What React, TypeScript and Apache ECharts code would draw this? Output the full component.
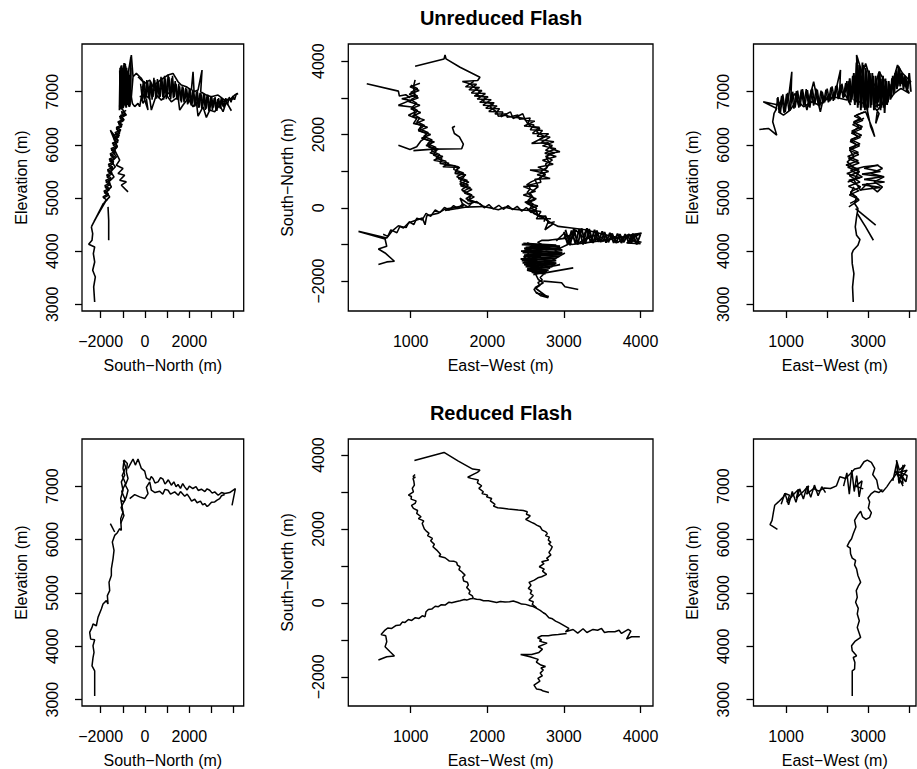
import React, { useEffect, useRef } from "react";
import * as echarts from "echarts";

type Pt = [number, number];

// ---------- Axis ranges (metres) ----------
const snRangeUnr: Pt = [-2843, 4451];
const snRangeRed: Pt = [-2843, 4451];
const snPlanRangeUnr: Pt = [-2815, 4470];
const snPlanRangeRed: Pt = [-2790, 4435];
const ewPlanRange: Pt = [185, 4163];
const ewSideRange: Pt = [205, 4165];
const elevRangeUnr: Pt = [2874, 7898];
const elevRangeRed: Pt = [2881, 7884];

// ---------- Ticks and tick labels ----------
const snTicks = [-2000, -1000, 0, 1000, 2000, 3000, 4000];
const snTickLabels = [-2000, 0, 2000];
const snPlanTickLabels = [-2000, 0, 2000, 4000];
const ewTicks = [1000, 2000, 3000, 4000];
const ewPlanTickLabels = [1000, 2000, 3000, 4000];
const ewSideTickLabels = [1000, 3000];
const elevTicks = [3000, 4000, 5000, 6000, 7000];
const elevTickLabels = [3000, 4000, 5000, 6000, 7000];

// ---------- Reduced flash: plan view [East-West, South-North] ----------
const redPlanNE: Pt[] = [[1048,3855],[1435,4072],[1622,3837],[1809,3621],[1904,3594],[1870,3530],[1817,3476],[1744,3400],[1790,3370],[1883,3323],[1870,3250],[1926,3170],[1890,3100],[1948,3007],[1930,2960],[2004,2917],[1990,2870],[2057,2827],[2040,2760],[2100,2665],[2080,2620],[2135,2575],[2200,2560],[2274,2538],[2340,2530],[2404,2511],[2470,2500],[2522,2466],[2510,2400],[2560,2360],[2535,2304],[2500,2260],[2578,2178],[2610,2150],[2644,2105],[2690,2060],[2717,1970],[2760,1930],[2783,1880],[2760,1820],[2810,1780],[2796,1700],[2830,1640],[2800,1600],[2848,1519],[2830,1440],[2804,1366],[2830,1300],[2774,1204],[2800,1160],[2709,1113],[2740,1060],[2678,978],[2744,915],[2720,860],[2774,771],[2709,707],[2660,680],[2613,617],[2544,554],[2570,480],[2535,392],[2580,330],[2561,256],[2600,200],[2578,148],[2544,76],[2600,30],[2587,-41],[2644,-131]];
const redPlanNW: Pt[] = [[1057,3476],[1030,3420],[1060,3400],[1030,3368],[1040,3300],[1048,3188],[1020,3100],[1035,3007],[970,2917],[1010,2880],[1004,2809],[1070,2760],[1057,2692],[1010,2640],[1035,2557],[1090,2500],[1078,2421],[1135,2331],[1100,2280],[1170,2220],[1150,2150],[1178,1997],[1200,1950],[1239,1880],[1220,1820],[1283,1744],[1260,1680],[1309,1583],[1290,1520],[1339,1429],[1391,1312],[1370,1260],[1448,1222],[1505,1131],[1560,1130],[1600,1095],[1610,1020],[1644,978],[1630,900],[1665,843],[1709,752],[1680,700],[1691,590],[1740,560],[1752,482],[1730,420],[1774,319],[1760,250],[1804,193],[1817,121]];
const redPlanTrunkW: Pt[] = [[1817,121],[1780,110],[1731,76],[1700,90],[1644,58],[1600,40],[1535,4],[1500,20],[1448,-59],[1400,-50],[1361,-104],[1320,-90],[1274,-167],[1230,-180],[1200,-239],[1187,-374],[1150,-350],[1109,-420],[1060,-400],[1013,-474],[970,-450],[926,-528],[890,-520],[861,-600],[810,-610],[752,-691],[700,-680],[665,-736],[613,-853],[674,-889],[687,-1051],[665,-1187],[730,-1322],[787,-1439],[687,-1457],[578,-1547]];
const redPlanTrunkE: Pt[] = [[1817,121],[1860,100],[1904,94],[1950,60],[2013,58],[2060,40],[2122,13],[2170,40],[2231,22],[2290,30],[2339,49],[2400,10],[2448,-32],[2500,-40],[2557,-77],[2600,-100],[2644,-149],[2690,-200],[2731,-266],[2760,-300],[2804,-402],[2850,-430],[2891,-492],[2940,-540],[2991,-600],[3065,-691],[3020,-780],[3120,-720],[3180,-820],[3250,-700],[3300,-800],[3380,-717],[3440,-740],[3491,-691],[3530,-800],[3578,-781],[3665,-781],[3720,-740],[3752,-826],[3839,-718],[3874,-763],[3818,-979],[3883,-916],[3991,-916]];
const redPlanSE: Pt[] = [[3035,-826],[2926,-853],[2850,-870],[2796,-889],[2709,-889],[2657,-943],[2709,-1000],[2680,-1034],[2780,-1090],[2665,-1187],[2720,-1250],[2674,-1340],[2578,-1394],[2435,-1394],[2557,-1457],[2665,-1529],[2640,-1600],[2700,-1683],[2760,-1720],[2700,-1760],[2731,-1818],[2690,-1900],[2718,-1971],[2660,-2040],[2687,-2116],[2609,-2224],[2644,-2332],[2700,-2350],[2731,-2386],[2804,-2422]];

// ---------- Reduced flash: South-North vs Elevation ----------
const redSnStem: Pt[] = [[-2271,3068],[-2271,3539],[-2391,3633],[-2346,3789],[-2301,3884],[-2346,4009],[-2271,4122],[-2451,4134],[-2497,4260],[-2391,4354],[-2346,4417],[-2196,4385],[-2121,4542],[-1970,4699],[-1895,4793],[-1745,4855],[-1669,4793],[-1699,4949],[-1594,5043],[-1624,5200],[-1519,5326],[-1519,5451],[-1444,5639],[-1399,5796],[-1474,5953],[-1369,6078],[-1248,6128],[-1143,6203],[-1068,6172],[-1098,6392],[-993,6517],[-1098,6768],[-993,6924],[-1068,7081],[-917,7207],[-993,7332],[-947,7489],[-797,7426],[-842,7269],[-767,7144],[-887,7018],[-767,6924],[-842,6799],[-947,6705],[-1098,6736]];
const redSnBlob: Pt[] = [[-1100,6300],[-950,6450],[-1080,6600],[-900,6750],[-1050,6900],[-880,7050],[-1030,7200],[-870,7350],[-980,7480]];
const redSnStub: Pt[] = [[-1564,6298],[-1369,6141]];
const redSnUpper: Pt[] = [[-767,7332],[-647,7426],[-541,7508],[-436,7395],[-316,7508],[-165,7332],[-15,7282],[60,7156],[211,7113],[280,7180],[361,7144],[450,7060],[587,7081],[700,7160],[812,7131],[900,7040],[963,7069],[1050,7120],[1188,7018],[1300,7080],[1400,6990],[1489,7031],[1600,6960],[1700,7050],[1790,6987],[1900,6930],[2000,7000],[2157,6956],[2300,6990],[2400,6920],[2542,6943],[2700,6900],[2800,6950],[2918,6924],[3030,6870],[3143,6893],[3300,6830],[3450,6880],[3594,6862],[3820,6881],[4076,6956],[3925,6642]];
const redSnLower: Pt[] = [[-692,6768],[-466,6843],[-241,6799],[-15,6768],[135,6862],[60,6978],[211,7081],[286,6924],[450,6880],[662,6906],[800,6850],[900,6940],[1038,6924],[1150,6850],[1339,6893],[1500,6830],[1600,6900],[1790,6812],[1900,6850],[2000,6790],[2100,6720],[2241,6755],[2350,6690],[2500,6720],[2600,6650],[2692,6674],[2800,6620],[2873,6642],[3000,6700],[3143,6705],[3250,6740],[3368,6768],[3450,6820],[3594,6843]];

// ---------- Reduced flash: East-West vs Elevation ----------
const redEwStem: Pt[] = [[2611,3068],[2611,3539],[2668,3570],[2676,3695],[2636,3789],[2717,3821],[2611,3915],[2595,4009],[2676,4090],[2816,4166],[2775,4260],[2734,4354],[2783,4479],[2734,4605],[2758,4711],[2693,4824],[2734,4918],[2709,5043],[2766,5138],[2816,5200],[2750,5326],[2717,5451],[2668,5526],[2693,5608],[2611,5652],[2570,5733],[2562,5840],[2488,5877],[2537,5953],[2595,6015],[2636,6109],[2701,6235],[2668,6360],[2750,6467],[2816,6529],[2864,6423],[2946,6379],[3036,6417],[3077,6504],[3004,6592],[3036,6705],[2995,6780],[3077,6862],[3159,6906],[3265,6881],[3347,6937]];
const redEwUpper: Pt[] = [[788,6191],[608,6279],[657,6360],[689,6504],[722,6642],[812,6705],[935,6799],[976,6862],[1082,6830],[1020,6700],[1180,6843],[1303,6943],[1250,6780],[1425,6906],[1548,7006],[1500,6850],[1671,6956],[1793,6906],[1932,6968],[2080,6956],[2227,7006],[2309,7175],[2447,7144],[2570,7238],[2668,7320],[2800,7345],[2898,7457],[2979,7489],[3077,7445],[3159,7332],[3110,7219],[3208,7113],[3249,6956],[3347,6893],[3453,6987],[3535,7081],[3633,7175],[3715,7269],[3690,7489],[3760,7300],[3900,7400],[3800,7250],[3950,7200],[3919,7081],[3813,7207],[3850,7050],[3731,7131]];
const redEwArm: Pt[] = [[880,6660],[970,6870],[1060,6650],[1150,6900],[1240,6700],[1330,6950],[1420,6760],[1510,7000],[1600,6790],[1690,7020],[1780,6820],[1870,6990],[1960,6880]];
const redEwLoop: Pt[] = [[2400,7000],[2480,7250],[2540,6850],[2600,7300],[2660,6900],[2720,7200],[2780,6800],[2850,7100],[2700,7000],[2880,6950]];
const redEwStar: Pt[] = [[3600,7100],[3700,7450],[3750,7050],[3850,7400],[3800,7150],[3950,7300],[3700,7250],[3900,7100],[3650,7300],[3850,7000]];

// ---------- Unreduced flash: plan view ----------
const unrPlanNE: Pt[] = [[1057,3864],[1435,4063],[1448,4172],[1461,4063],[1644,3837],[1904,3565],[1874,3475],[1674,3448],[1774,3384],[1839,3276],[1904,3158],[1861,3068],[1970,3023],[1948,2887],[2079,2841],[2035,2751],[2122,2615],[2144,2498],[2231,2525],[2318,2480],[2404,2462],[2491,2434],[2526,2299],[2578,2208],[2687,2163],[2644,2072],[2752,1937],[2578,1756],[2796,1774],[2831,1620],[2948,1529],[2804,1484],[2774,1349],[2818,1213],[2752,1031],[2557,1031],[2752,941],[2687,805],[2578,715],[2513,624],[2665,579],[2557,398],[2622,217],[2513,127],[2644,-10],[2600,-145],[2709,-236],[2796,-371],[2752,-598],[2861,-435]];
const unrPlanNEScrib: Pt[] = [[1823,3453],[1715,3303],[1899,3285],[1791,3135],[1975,3117],[1867,2967],[2051,2949],[1943,2799],[2127,2781],[2019,2631],[2203,2613],[2177,2483],[2303,2617],[2337,2438],[2463,2567],[2497,2383],[2620,2365],[2480,2235],[2680,2200],[2590,2030],[2800,2020],[2680,1860],[2870,1800],[2720,1690],[2895,1610],[2750,1490],[2900,1400],[2720,1300],[2860,1190],[2660,1110],[2800,990],[2650,900],[2820,800],[2620,780],[2660,600],[2470,580],[2630,450],[2470,350],[2640,250],[2490,150],[2660,50],[2520,-50],[2700,-100],[2640,-300],[2830,-300]];
const unrPlanNEScrib2: Pt[] = [[1760,3380],[1860,3370],[1760,3220],[1930,3200],[1830,3050],[2010,3030],[1900,2880],[2090,2870],[1980,2720],[2160,2700],[2100,2560],[2250,2560],[2260,2470],[2400,2530],[2420,2420],[2560,2450],[2530,2300],[2610,2260],[2560,2130],[2720,2110],[2650,1950],[2820,1930],[2700,1780],[2850,1700],[2760,1570],[2880,1500],[2760,1400],[2850,1300],[2760,1200],[2780,1100],[2700,1000],[2760,900],[2680,820],[2700,700],[2540,620],[2560,520],[2520,420],[2580,300],[2530,200],[2600,100],[2560,0],[2640,-80],[2660,-200],[2760,-240],[2740,-380]];
const unrPlanNW: Pt[] = [[1057,3493],[1035,3294],[1057,3068],[948,3004],[883,2977],[991,2932],[839,2796],[1013,2751],[1057,2615],[970,2525],[1078,2434],[1035,2299],[1144,2253],[1100,2117],[1209,2027],[1165,1891],[1274,1801],[1231,1665],[1339,1574],[1296,1439],[1405,1348],[1383,1213],[1513,1167],[1622,1122],[1578,941],[1709,896],[1644,714],[1752,624],[1665,489],[1787,353],[1761,217],[1848,145]];
const unrPlanNWScrib: Pt[] = [[1120,3400],[990,3300],[1110,3200],[980,3100],[1100,3000],[970,2900],[1120,2800],[1000,2700],[1130,2600],[1020,2500],[1180,2400],[1060,2300],[1220,2200],[1100,2100],[1260,2000],[1140,1900],[1310,1800],[1200,1700],[1360,1600],[1250,1500],[1420,1400],[1300,1300],[1500,1220],[1420,1120],[1640,1100],[1580,1000],[1720,900],[1620,800],[1760,700],[1650,600],[1800,500],[1700,400],[1830,300],[1740,200],[1880,130]];
const unrPlanNWScrib2: Pt[] = [[1000,3350],[1090,3250],[1000,3150],[1090,3050],[1000,2950],[1080,2850],[1020,2750],[1090,2650],[1040,2550],[1120,2450],[1080,2350],[1180,2250],[1120,2150],[1230,2050],[1170,1950],[1280,1850],[1220,1750],[1330,1650],[1270,1550],[1380,1450],[1330,1350],[1460,1270],[1450,1170],[1580,1150],[1560,1050],[1690,950],[1600,850],[1740,750],[1640,650],[1780,550],[1680,450],[1800,350],[1720,250],[1840,170]];
const unrPlanStrayNW: Pt[] = [[426,3384],[839,3185],[852,3050],[935,3086],[991,3004]];
const unrPlanArm1: Pt[] = [[839,1710],[991,1593],[1078,1665],[1135,1828],[1209,1937]];
const unrPlanArm2: Pt[] = [[1035,1561],[1296,1602],[1665,1611],[1687,1737],[1635,1936],[1570,2027],[1544,2190],[1578,2226]];
const unrPlanTrunkW: Pt[] = [[1948,36],[1861,172],[1752,108],[1644,262],[1687,54],[1535,-9],[1448,-36],[1361,-145],[1274,-190],[1209,-217],[1187,-462],[1152,-281],[1057,-344],[970,-416],[905,-552],[839,-489],[752,-643],[687,-824],[318,-643],[665,-851],[687,-1050],[578,-1122],[665,-1231],[787,-1457],[687,-1475],[578,-1548]];
const unrPlanTrunkWScrib: Pt[] = [[1800,140],[1750,20],[1680,110],[1620,-20],[1560,60],[1500,-60],[1440,10],[1380,-130],[1320,-60],[1260,-230],[1200,-150],[1150,-330],[1080,-280],[1040,-460],[980,-380],[940,-540],[860,-500],[820,-680],[740,-600],[700,-780],[640,-720]];
const unrPlanArc: Pt[] = [[1448,-73],[1709,18],[1970,36]];
const unrPlanTrunkE: Pt[] = [[1948,36],[2057,-9],[2144,-55],[2231,18],[2339,-36],[2448,-55],[2557,-73],[2644,-190],[2731,-281],[2839,-416],[2926,-507],[3100,-552],[3274,-598],[3448,-688],[3622,-779],[3752,-824],[3883,-733],[4013,-688],[3861,-869],[4013,-941]];
const unrPlanTrunkEScrib: Pt[] = [[1900,120],[1960,0],[2020,90],[2080,-30],[2150,70],[2210,-40],[2270,60],[2330,-50],[2390,40],[2450,-90],[2510,10],[2570,-130],[2620,-60],[2680,-250],[2760,-220],[2800,-420],[2880,-380]];
const unrPlanSeA: Pt[] = [[2520,-950],[2600,-1020],[2550,-1080],[2700,-1000],[2650,-1120],[2820,-1050],[2760,-1150],[2950,-1080],[2880,-1180],[2980,-1250],[2800,-1230],[2850,-1320],[2620,-1250],[2700,-1350],[2500,-1300],[2580,-1400],[2480,-1450],[2650,-1420],[2600,-1520],[2780,-1450],[2720,-1560],[2900,-1500],[2830,-1600],[2950,-1550],[2700,-1650],[2760,-1720],[2560,-1650],[2620,-1760],[2520,-1700],[2600,-1600],[2500,-1550],[2560,-1480],[2480,-1380],[2540,-1250],[2490,-1150],[2580,-1120]];
const unrPlanSeFill: Pt[] = [[2450,-1000],[2950,-1050],[2480,-1110],[2980,-1150],[2460,-1220],[2960,-1270],[2470,-1330],[2900,-1380],[2450,-1440],[2880,-1490],[2480,-1550],[2850,-1600],[2520,-1660],[2800,-1700],[2580,-1760],[2760,-1800]];
const unrPlanSeFill2: Pt[] = [[2470,-970],[2900,-1020],[2500,-1080],[2960,-1120],[2440,-1180],[2980,-1220],[2480,-1290],[2940,-1320],[2460,-1400],[2900,-1440],[2460,-1500],[2880,-1540],[2500,-1600],[2820,-1640],[2540,-1700],[2780,-1740],[2600,-1820]];
const unrPlanSeB: Pt[] = [[2900,-900],[3000,-700],[3100,-850],[3150,-600],[3250,-800],[3300,-560],[3350,-750],[3200,-950],[3450,-700],[3400,-880],[3550,-760],[3500,-920],[3650,-800],[3700,-950],[3780,-830],[3850,-720],[3900,-900],[4000,-980],[3820,-960],[3950,-720],[3600,-860],[3300,-950],[3100,-1000],[3000,-800],[3150,-700],[3050,-1000],[2950,-1100]];
const unrPlanSeBand: Pt[] = [[3000,-650],[3050,-1000],[3100,-620],[3150,-980],[3200,-580],[3250,-1000],[3300,-560],[3350,-950],[3400,-600],[3450,-930],[3500,-640],[3550,-950],[3600,-680],[3650,-960],[3700,-700],[3750,-960],[3800,-720],[3850,-960],[3900,-700],[3950,-1000],[4000,-720]];
const unrPlanSeBand2: Pt[] = [[3020,-600],[3080,-1020],[3130,-560],[3180,-1000],[3230,-560],[3280,-980],[3330,-580],[3380,-960],[3430,-620],[3480,-940],[3530,-660],[3580,-940],[3630,-700],[3680,-960],[3730,-720],[3780,-940],[3830,-740],[3880,-960],[3930,-720],[3980,-980]];
const unrPlanSeStray1: Pt[] = [[2644,-1683],[3013,-1231]];
const unrPlanSeStray2: Pt[] = [[2752,-1774],[3122,-1638]];
const unrPlanSeStray3: Pt[] = [[2731,-2000],[2970,-2045],[3013,-2154],[3187,-2227]];
const unrPlanSeLow: Pt[] = [[2622,-1774],[2665,-1955],[2731,-2045],[2622,-2181],[2709,-2317],[2796,-2453],[2700,-2400],[2640,-2300]];

// ---------- Unreduced flash: South-North vs Elevation ----------
const unrSnStem: Pt[] = [[-2271,3043],[-2316,3326],[-2241,3514],[-2361,3640],[-2271,3797],[-2331,3954],[-2271,4080],[-2542,4130],[-2391,4205],[-2361,4331],[-2421,4456]];
const unrSnFan: Pt[] = [[-2421,4456],[-1880,4900],[-2346,4520],[-1820,4927],[-2300,4560],[-1745,4960]];
const unrSnDrop: Pt[] = [[-1669,4833],[-1639,4582],[-1639,4205]];
const unrSnRise: Pt[] = [[-1820,4927],[-1594,5021],[-1745,5116],[-1519,5210],[-1639,5304],[-1399,5398],[-1549,5493],[-1338,5587],[-1519,5681],[-1293,5775],[-1444,5869],[-1248,5963],[-1564,6277],[-1218,6089],[-1399,6183],[-1143,6215],[-1293,6309],[-1068,6340],[-1188,6435],[-947,6466],[-1098,6560],[-842,6560],[-993,6654],[-1143,6717]];
const unrSnRiseScrib: Pt[] = [[-1880,5000],[-1660,5050],[-1840,5100],[-1620,5150],[-1800,5200],[-1580,5250],[-1760,5300],[-1540,5350],[-1720,5400],[-1500,5450],[-1680,5500],[-1460,5550],[-1640,5600],[-1420,5650],[-1600,5700],[-1380,5750],[-1560,5800],[-1340,5850],[-1520,5900],[-1300,5950],[-1440,6000],[-1220,6050],[-1400,6100],[-1180,6150],[-1340,6200],[-1120,6250],[-1280,6300],[-1050,6350],[-1200,6400],[-980,6450],[-1130,6500],[-900,6550],[-1060,6600],[-850,6650]];
const unrSnRiseScrib2: Pt[] = [[-1700,4950],[-1900,5020],[-1650,5080],[-1860,5130],[-1610,5180],[-1820,5230],[-1570,5280],[-1780,5330],[-1530,5380],[-1740,5430],[-1490,5480],[-1700,5530],[-1450,5580],[-1660,5630],[-1410,5680],[-1620,5730],[-1370,5780],[-1580,5830],[-1330,5880],[-1540,5930],[-1260,5980],[-1480,6030],[-1200,6080],[-1420,6130],[-1150,6180],[-1360,6230],[-1090,6280],[-1300,6330],[-1020,6380],[-1230,6430],[-950,6480],[-1160,6530],[-880,6580],[-1080,6630]];
const unrSnBulge: Pt[] = [[-1369,5901],[-1143,5712],[-1293,5618],[-993,5555],[-1218,5461],[-917,5430],[-1143,5335],[-842,5304],[-1068,5241],[-767,5116]];
const unrSnBlob: Pt[] = [[-1143,6717],[-1068,7471],[-993,6717],[-917,7533],[-842,6780],[-1068,7219],[-767,6843],[-1098,7031],[-692,6717],[-767,7345],[-617,7690],[-541,7282],[-617,6900],[-692,7100],[-570,6780],[-466,6720],[-316,6780],[-241,6717],[-165,6905],[-90,6780],[-15,6843],[-120,7000],[-30,7150],[-165,7250],[-241,7282],[-391,7345],[-541,7282]];
const unrSnBlobScrib: Pt[] = [[-1150,6650],[-1120,7450],[-1090,6700],[-1060,7500],[-1030,6680],[-1000,7420],[-970,6720],[-940,7540],[-910,6760],[-880,7480],[-850,6700],[-820,7400],[-790,6780],[-760,7350],[-730,6720],[-700,7300],[-660,6800],[-640,7650]];
const unrSnBlobScrib2: Pt[] = [[-1135,7400],[-1105,6680],[-1075,7480],[-1045,6700],[-1015,7450],[-985,6690],[-955,7500],[-925,6740],[-895,7520],[-865,6720],[-835,7450],[-805,6750],[-775,7380],[-745,6760],[-715,7320],[-680,6740],[-650,7450]];
const unrSnStub: Pt[] = [[-15,6843],[135,6654],[60,6874]];
const unrSnBandA: Pt[] = [[-316,7282],[-15,7157],[211,7219],[361,7094],[587,7188],[813,7251],[1038,7314],[1263,7345],[1489,7188],[1639,7125],[1865,7094],[2091,7031],[2166,7376],[2211,7000],[2391,7031],[2572,7408],[2512,7000],[2767,6937],[2993,6905],[3294,6937],[3594,6843],[3895,6874],[4046,6937],[4196,6968]];
const unrSnBandB: Pt[] = [[-241,6905],[-15,6937],[211,6874],[286,6654],[511,6937],[737,6843],[963,6937],[1188,6811],[1489,6905],[1564,6654],[1714,6749],[1940,6874],[2166,6717],[2316,6811],[2391,6541],[2617,6717],[2767,6516],[2918,6654],[3143,6623],[3368,6749],[3519,6623],[3669,6811],[3895,6642]];
const unrSnBandC: Pt[] = [[-165,7094],[135,7000],[436,7031],[737,7063],[1038,6968],[1338,7031],[1639,6956],[1940,6937],[2241,6893],[2542,6843],[2842,6805],[3143,6780],[3444,6811],[3745,6843],[4015,6868]];
const unrSnArmScrib: Pt[] = [[-200,7150],[-120,6850],[-40,7200],[40,6880],[120,7180],[200,6850],[280,7150],[360,6900],[440,7220],[520,6870],[600,7200],[680,6900],[760,7260],[840,6850],[920,7250],[1000,6900],[1080,7280],[1160,6860],[1240,7300],[1320,6900],[1400,7150],[1480,6850],[1560,7100],[1640,6800],[1720,7080],[1800,6850],[1880,7050],[1960,6780],[2040,7050],[2120,6760],[2200,7000],[2280,6740],[2360,7020],[2440,6700],[2520,6980],[2600,6720],[2680,6960],[2760,6680],[2840,6940],[2920,6650],[3000,6920],[3080,6700],[3160,6900],[3240,6640],[3320,6880],[3400,6680],[3480,6860],[3560,6700],[3640,6880],[3720,6750],[3800,6900],[3880,6800],[3960,6920],[4040,6850],[4120,6960],[4196,6968]];
const unrSnArmScrib2: Pt[] = [[-160,6900],[-80,7180],[0,6860],[80,7220],[160,6880],[240,7200],[320,6850],[400,7260],[480,6900],[560,7240],[640,6880],[720,7280],[800,6900],[880,7300],[960,6860],[1040,7320],[1120,6900],[1200,7250],[1280,6880],[1360,7200],[1440,6850],[1520,7150],[1600,6830],[1680,7100],[1760,6800],[1840,7080],[1920,6760],[2000,7060],[2080,6740],[2160,7040],[2240,6720],[2320,7000],[2400,6700],[2480,6980],[2560,6680],[2640,6960],[2720,6660],[2800,6940],[2880,6640],[2960,6900],[3040,6660],[3120,6880],[3200,6660],[3280,6860],[3360,6700],[3440,6880],[3520,6720],[3600,6860]];

// ---------- Unreduced flash: East-West vs Elevation ----------
const unrEwStem: Pt[] = [[2636,3043],[2619,3326],[2652,3577],[2611,3765],[2603,3954],[2636,4017],[2750,4111],[2799,4218],[2717,4299],[2685,4456],[2717,4645],[2750,4802],[2668,4897],[2717,5021],[2570,5084],[2652,5210]];
const unrEwStray1: Pt[] = [[2693,4802],[3183,4488]];
const unrEwStray2: Pt[] = [[2734,4708],[2938,4456],[3126,4205]];
const unrEwMid: Pt[] = [[2529,4833],[2775,4959],[2570,5116],[2816,5210],[2529,5336],[2856,5398],[2570,5524],[2897,5587],[3224,5618],[3347,5555],[3061,5461],[3388,5398],[3143,5304],[3347,5210],[3224,5116],[2979,5273],[2816,5147],[2652,5336],[2775,5493],[2488,5681],[2652,5775],[2554,5901],[2717,5995],[2570,6089],[2750,6152],[2611,6246],[2775,6340],[2652,6434],[2816,6497],[2717,6560],[2938,6623],[3020,6466],[3102,6309],[3159,6152],[3061,6340],[2979,6654],[2938,6780]];
const unrEwMidScrib: Pt[] = [[2500,5300],[2800,5380],[2480,5460],[2780,5540],[2460,5620],[2760,5700],[2500,5780],[2760,5860],[2540,5940],[2800,6020],[2580,6100],[2840,6180],[2600,6260],[2860,6340],[2640,6420],[2900,6500]];
const unrEwMidScrib2: Pt[] = [[2560,4900],[2760,4980],[2540,5060],[2780,5140],[2520,5220],[2800,5300],[2540,5420],[2790,5500],[2500,5580],[2780,5660],[2520,5740],[2770,5820],[2540,5900],[2790,5980],[2560,6060],[2810,6140],[2590,6220],[2840,6300],[2620,6380],[2870,6460],[2660,6540],[2900,6620]];
const unrEwLobe: Pt[] = [[2800,5150],[3300,5200],[2850,5250],[3400,5300],[2900,5350],[3350,5400],[2850,5450],[3300,5500],[2900,5560],[3250,5620]];
const unrEwTop: Pt[] = [[2897,6780],[2652,6843],[2816,7031],[2570,6968],[2734,7219],[2717,7690],[2856,7345],[2938,7533],[3061,7219],[2979,6968],[3184,7157],[3265,7376],[3388,7219],[3306,6968],[3470,7031],[3347,6780],[3143,6717],[3265,6591],[3184,6403],[3224,6654],[3429,6843],[3552,7094],[3633,7282],[3715,7502],[3838,7345],[4042,7188],[3878,7157],[4001,6968],[3797,7063],[3633,6968],[3552,6874]];
const unrEwTopScrib: Pt[] = [[2500,6900],[2550,7250],[2600,6850],[2650,7350],[2700,6800],[2730,7650],[2760,6750],[2800,7450],[2840,6700],[2880,7500],[2920,6650],[2960,7400],[3000,6700],[3040,7350],[3080,6750],[3120,7300],[3160,6700],[3200,7250],[3240,6800],[3280,7380],[3320,6700],[3360,7300],[3400,6600],[3440,7200],[3480,6800],[3520,7150],[3560,6900],[3600,7300],[3640,7000],[3680,7400],[3720,7100],[3760,7450],[3800,7150],[3840,7300],[3880,7100],[3920,7250],[3960,7050],[4000,7350],[4040,7000]];
const unrEwTopScrib2: Pt[] = [[2520,7200],[2575,6800],[2625,7300],[2675,6750],[2715,7550],[2745,6700],[2780,7500],[2820,6650],[2860,7550],[2900,6700],[2940,7450],[2980,6650],[3020,7400],[3060,6700],[3100,7350],[3140,6650],[3180,7300],[3220,6700],[3260,7350],[3300,6650],[3340,7250],[3380,6700],[3420,7250],[3460,6750],[3500,7200],[3540,6850],[3580,7250],[3620,6950],[3660,7350],[3700,7050],[3740,7480],[3780,7100],[3820,7350],[3860,7050],[3900,7300],[3940,7000],[3980,7200]];
const unrEwLeft: Pt[] = [[346,6290],[567,6309],[624,6278],[771,6183],[673,6434],[706,6591],[771,6686],[444,6811],[812,6749],[894,6843],[976,6717],[1057,6874],[1139,7376],[1115,6843],[1221,6968],[1303,6749],[1384,7031],[1507,6654],[1589,6937],[1671,7188],[1753,6874],[1834,6623],[1916,6905],[2079,6843],[2202,6993],[2325,7408],[2308,7031],[2447,6937],[2570,6749],[2488,6905],[2611,7031]];
const unrEwLeft2: Pt[] = [[812,6623],[935,6560],[1098,6654],[1262,6843],[1425,6717],[1630,6811],[1793,6749],[1957,6843],[2161,6905],[2325,6874],[2488,6843]];
const unrEwLeftScrib: Pt[] = [[750,6650],[800,6900],[860,6600],[920,6950],[980,6620],[1040,6980],[1100,6650],[1160,7000],[1220,6700],[1280,7020],[1340,6720],[1400,7050],[1460,6750],[1520,7030],[1580,6700],[1640,7060],[1700,6760],[1760,7040],[1820,6720],[1880,7000],[1940,6800],[2000,7060],[2060,6820],[2120,7100],[2180,6850],[2240,7120],[2300,6880],[2360,7150],[2420,6900],[2480,7200],[2540,6800]];
const unrEwLeftScrib2: Pt[] = [[780,6880],[830,6620],[890,6920],[950,6600],[1010,6960],[1070,6640],[1130,6990],[1190,6680],[1250,7010],[1310,6700],[1370,7040],[1430,6740],[1490,7050],[1550,6720],[1610,7040],[1670,6740],[1730,7060],[1790,6740],[1850,7020],[1910,6780],[1970,7040],[2030,6800],[2090,7080],[2150,6830],[2210,7110],[2270,6860],[2330,7130],[2390,6880],[2450,7160],[2510,6850]];

const FONT = '"Liberation Sans", Arial, Helvetica, sans-serif';

const GRIDS = [
  { left: 82, top: 44, width: 161.7, height: 267 },
  { left: 348.3, top: 44, width: 304.7, height: 267 },
  { left: 753.5, top: 44, width: 162.5, height: 267 },
  { left: 82, top: 439, width: 161.7, height: 267 },
  { left: 348.3, top: 439, width: 304.7, height: 267 },
  { left: 753.5, top: 439, width: 162.5, height: 267 },
];

const fmt = (v: number) => String(v).replace("-", "\u2212");

const textStyle = { color: "#000", fontSize: 16, fontFamily: FONT, lineHeight: 16 };

function makeAxis(
  dim: "x" | "y",
  gridIndex: number,
  range: Pt,
  ticks: number[],
  labels: number[],
  name: string
) {
  return {
    type: "value",
    gridIndex,
    min: range[0],
    max: range[1],
    position: dim === "x" ? "bottom" : "left",
    axisLine: { show: false, onZero: false },
    axisTick: {
      show: true,
      inside: false,
      length: 7,
      customValues: ticks,
      lineStyle: { color: "#000", width: 1.3 },
    },
    axisLabel: {
      show: true,
      customValues: labels,
      margin: 22,
      rotate: dim === "y" ? 90 : 0,
      formatter: (v: number) => fmt(v),
      ...textStyle,
    },
    splitLine: { show: false },
    name,
    nameLocation: "middle",
    nameGap: dim === "x" ? 46 : 53,
    nameTextStyle: textStyle,
  };
}

function line(data: Pt[], idx: number, width: number) {
  return {
    type: "line",
    xAxisIndex: idx,
    yAxisIndex: idx,
    data,
    showSymbol: false,
    symbol: "none",
    silent: true,
    clip: true,
    lineStyle: { color: "#000", width },
  };
}

export default function App() {
  const ref = useRef<HTMLDivElement>(null);

  useEffect(() => {
    if (!ref.current) return;
    const chart = echarts.init(ref.current, undefined, { renderer: "svg" });
    const SN = "South\u2212North (m)";
    const EW = "East\u2212West (m)";
    const EL = "Elevation (m)";
    const xAxes = [
      makeAxis("x", 0, snRangeUnr, snTicks, snTickLabels, SN),
      makeAxis("x", 1, ewPlanRange, ewTicks, ewPlanTickLabels, EW),
      makeAxis("x", 2, ewSideRange, ewTicks, ewSideTickLabels, EW),
      makeAxis("x", 3, snRangeRed, snTicks, snTickLabels, SN),
      makeAxis("x", 4, ewPlanRange, ewTicks, ewPlanTickLabels, EW),
      makeAxis("x", 5, ewSideRange, ewTicks, ewSideTickLabels, EW),
    ];
    const yAxes = [
      makeAxis("y", 0, elevRangeUnr, elevTicks, elevTickLabels, EL),
      makeAxis("y", 1, snPlanRangeUnr, snTicks, snPlanTickLabels, SN),
      makeAxis("y", 2, elevRangeUnr, elevTicks, elevTickLabels, EL),
      makeAxis("y", 3, elevRangeRed, elevTicks, elevTickLabels, EL),
      makeAxis("y", 4, snPlanRangeRed, snTicks, snPlanTickLabels, SN),
      makeAxis("y", 5, elevRangeRed, elevTicks, elevTickLabels, EL),
    ];
    const UW = 1.6;
    const SW = 1.5;
    const FW = 1.9;
    const RW = 1.5;
    const series = [
      // Unreduced: SN vs Elev
      ...[unrSnStem, unrSnFan, unrSnDrop, unrSnRise, unrSnBulge, unrSnBlob, unrSnStub, unrSnBandA, unrSnBandB, unrSnBandC].map((d) => line(d, 0, UW)),
      ...[unrSnRiseScrib, unrSnRiseScrib2, unrSnArmScrib, unrSnArmScrib2].map((d) => line(d, 0, SW)),
      ...[unrSnBlobScrib, unrSnBlobScrib2].map((d) => line(d, 0, FW)),
      // Unreduced: plan
      ...[unrPlanNE, unrPlanNW, unrPlanStrayNW, unrPlanArm1, unrPlanArm2, unrPlanTrunkW, unrPlanArc, unrPlanTrunkE, redPlanSE, unrPlanSeA, unrPlanSeB, unrPlanSeStray1, unrPlanSeStray2, unrPlanSeStray3, unrPlanSeLow].map((d) => line(d, 1, UW)),
      ...[unrPlanNEScrib, unrPlanNEScrib2, unrPlanNWScrib, unrPlanNWScrib2, unrPlanTrunkWScrib, unrPlanTrunkEScrib].map((d) => line(d, 1, SW)),
      ...[unrPlanSeFill, unrPlanSeFill2, unrPlanSeBand, unrPlanSeBand2].map((d) => line(d, 1, FW)),
      // Unreduced: EW vs Elev
      ...[unrEwStem, unrEwStray1, unrEwStray2, unrEwMid, unrEwLobe, unrEwTop, unrEwLeft, unrEwLeft2].map((d) => line(d, 2, UW)),
      ...[unrEwMidScrib, unrEwMidScrib2, unrEwLeftScrib, unrEwLeftScrib2].map((d) => line(d, 2, SW)),
      ...[unrEwTopScrib, unrEwTopScrib2].map((d) => line(d, 2, FW)),
      // Reduced: SN vs Elev
      ...[redSnStem, redSnBlob, redSnStub, redSnUpper, redSnLower].map((d) => line(d, 3, RW)),
      // Reduced: plan
      ...[redPlanNE, redPlanNW, redPlanTrunkW, redPlanTrunkE, redPlanSE].map((d) => line(d, 4, RW)),
      // Reduced: EW vs Elev
      ...[redEwStem, redEwUpper, redEwArm, redEwLoop, redEwStar].map((d) => line(d, 5, RW)),
    ];
    chart.setOption({
      animation: false,
      backgroundColor: "#fff",
      grid: GRIDS.map((g) => ({
        ...g,
        show: true,
        borderColor: "#000",
        borderWidth: 1.3,
        backgroundColor: "transparent",
        containLabel: false,
      })),
      xAxis: xAxes,
      yAxis: yAxes,
      series,
      graphic: [
        {
          type: "text",
          x: 501,
          y: 18,
          style: {
            text: "Unreduced Flash",
            fontSize: 20,
            fontWeight: "bold",
            fontFamily: FONT,
            fill: "#000",
            align: "center",
            verticalAlign: "middle",
          },
        },
        {
          type: "text",
          x: 501,
          y: 413,
          style: {
            text: "Reduced Flash",
            fontSize: 20,
            fontWeight: "bold",
            fontFamily: FONT,
            fill: "#000",
            align: "center",
            verticalAlign: "middle",
          },
        },
      ],
    });
    return () => chart.dispose();
  }, []);

  return (
    <div
      ref={ref}
      style={{ position: "absolute", left: 0, top: 0, width: 917, height: 769 }}
    />
  );
}
